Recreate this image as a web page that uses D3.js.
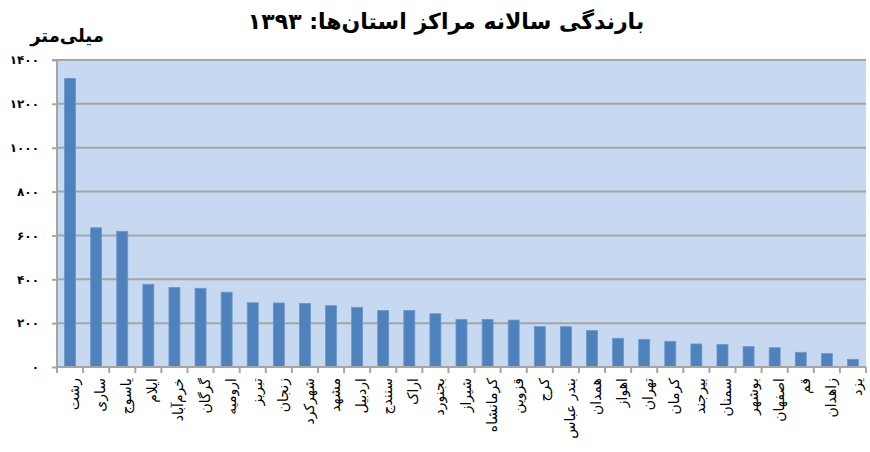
<!DOCTYPE html>
<html><head><meta charset="utf-8">
<script src="https://cdn.jsdelivr.net/npm/d3@7"></script>
<style>body{margin:0;background:#fff}svg{display:block}</style>
</head><body><svg id="c" width="870" height="452"></svg>
<script>
const title = "بارندگی سالانه مراکز استان‌ها: ۱۳۹۳";
const unitLabel = "میلی‌متر";
const cities = ["رشت","ساری","یاسوج","ایلام","خرم‌آباد","گرگان","ارومیه","تبریز","زنجان","شهرکرد","مشهد","اردبیل","سنندج","اراک","بجنورد","شیراز","کرمانشاه","قزوین","کرج","بندر عباس","همدان","اهواز","تهران","کرمان","بیرجند","سمنان","بوشهر","اصفهان","قم","زاهدان","یزد"];
const rainfall = [1316,635,619,377,363,359,341,293,292,290,280,272,258,258,243,217,217,214,184,184,166,131,126,117,105,103,93,88,67,62,35];
const yTicks = [0,200,400,600,800,1000,1200,1400];

const fa = n => String(n).replace(/\d/g, d => "۰۱۲۳۴۵۶۷۸۹"[d]);
const svg = d3.select("#c");
const L = 57, R = 866, T = 60, B = 367;
const xb = d3.scaleBand().domain(cities).range([L, R]);
const y = d3.scaleLinear().domain([0, 1400]).range([B, T]);
const font = "'DejaVu Sans', sans-serif";

svg.append("rect").attr("x", L).attr("y", T).attr("width", R - L).attr("height", B - T).attr("fill", "#C6D9F1");

// gridlines
svg.append("g").selectAll("line").data(yTicks.filter(d => d > 0)).join("line")
  .attr("x1", L).attr("x2", R).attr("y1", d => y(d)).attr("y2", d => y(d))
  .attr("stroke", "#A5A5A5").attr("stroke-width", 2);

// bars
svg.append("g").selectAll("rect").data(rainfall).join("rect")
  .attr("x", (d, i) => xb(cities[i]) + xb.bandwidth() / 2 - 5.5)
  .attr("width", 11)
  .attr("y", d => y(d)).attr("height", d => B - y(d))
  .attr("fill", "#4F81BD").attr("stroke", "#6C98CC").attr("stroke-width", 0.8);

// y axis
const ya = svg.append("g").attr("transform", `translate(${L},0)`)
  .call(d3.axisLeft(y).tickValues(yTicks).tickSize(5).tickFormat(fa));
ya.select(".domain").attr("stroke", "#A5A5A5").attr("stroke-width", 2).attr("d", `M-5,${T}H0V${B}`);
ya.selectAll(".tick line").attr("stroke", "#A5A5A5").attr("stroke-width", 2);
ya.selectAll(".tick text").attr("x", -18).attr("font-family", font).attr("font-weight", "bold")
  .attr("font-size", 12).attr("fill", "#000");

// x axis
const xa = svg.append("g").attr("transform", `translate(0,${B})`)
  .call(d3.axisBottom(xb).tickSize(0).tickFormat(""));
xa.select(".domain").attr("stroke", "#A5A5A5").attr("stroke-width", 2).attr("d", `M${L},0H${R}`);
xa.selectAll(".tick").remove();
const bounds = cities.map(c => xb(c)).concat([R]);
xa.selectAll("line.tk").data(bounds).join("line").attr("class", "tk")
  .attr("x1", d => d).attr("x2", d => d).attr("y1", 0).attr("y2", 6)
  .attr("stroke", "#A5A5A5").attr("stroke-width", 2);

// category labels
svg.append("g").selectAll("text").data(cities).join("text")
  .attr("transform", d => `translate(${xb(d) + xb.bandwidth() / 2 + 9},378) rotate(-90)`)
  .attr("text-anchor", "end")
  .attr("font-family", font).attr("font-size", 14).attr("fill", "#000")
  .text(d => d);

// title
svg.append("text").attr("x", 446).attr("y", 29).attr("text-anchor", "middle")
  .attr("font-family", font).attr("font-weight", "bold").attr("font-size", 22).attr("fill", "#000")
  .text(title);
svg.append("text").attr("x", 67).attr("y", 42).attr("text-anchor", "middle")
  .attr("font-family", font).attr("font-weight", "bold").attr("font-size", 18).attr("fill", "#000")
  .text(unitLabel);
</script></body></html>
